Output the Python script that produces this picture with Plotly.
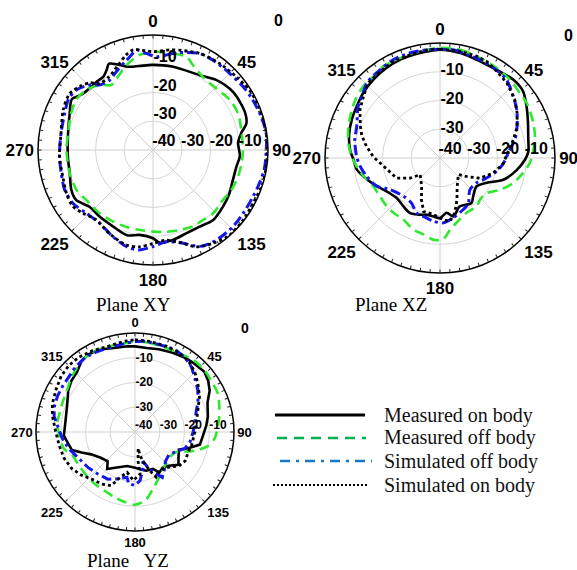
import plotly.graph_objects as go

W, H = 577, 570

# ---------------- data (angle in degrees, clockwise from top; level in dB) ----------------
series_names = ["Measured on body", "Measured off body", "Simulated off body", "Simulated on body"]
angle_ticks = [0, 45, 90, 135, 180, 225, 270, 315]
angle_labels = ["0", "45", "90", "135", "180", "225", "270", "315"]
ring_levels = [-30, -20, -10]
vertical_labels = ["-30", "-20", "-10"]
horizontal_labels = ["-40", "-30", "-20", "-10"]
horizontal_levels = [-40, -30, -20, -10]
outer_label = "0"

# Plane XY
mob_xy_theta = [0, 13, 32, 42, 54, 67, 74, 79, 85, 94, 101, 111, 120, 129, 139, 149, 158, 168, 176, 180,
                189, 197, 208, 219, 228, 237, 244, 254, 266, 281, 294, 302, 308, 316, 320, 326, 330, 333, 344, 351]
mob_xy_r = [-10.4, -10.2, -9.3, -7.2, -5.6, -5.4, -6.2, -8.7, -10.3, -9.7, -10.4, -10.3, -9.4, -8.7, -7.9, -8.8, -8.8, -7.9, -7.7, -9.3,
            -10.1, -9.0, -10.0, -10.3, -10.4, -8.1, -8.4, -9.9, -10.3, -9.9, -8.3, -6.7, -8.6, -9.3, -9.2, -9.2, -7.8, -6.3, -9.9, -10.4]
mof_xy_theta = [2, 12, 20, 25, 34, 46, 57, 67, 77, 90, 99, 107, 117, 126, 137, 145, 152, 162, 171, 180,
                190, 199, 209, 220, 233, 242, 254, 270, 281, 294, 303, 312, 321, 327, 333, 343, 352]
mof_xy_r = [-5.8, -5.7, -5.6, -7.3, -9.2, -9.3, -8.1, -7.8, -8.5, -8.7, -8.9, -9.0, -9.4, -10.1, -9.6, -10.1, -10.0, -10.7, -11.2, -11.6,
            -11.8, -11.7, -11.5, -11.2, -11.0, -10.0, -9.9, -9.9, -9.9, -8.8, -8.1, -8.8, -10.8, -13.1, -12.1, -9.0, -6.6]
sof_xy_theta = [2, 8, 15, 26, 34, 45, 55, 63, 73, 82, 90, 99, 107, 115, 125, 134, 145, 154, 162, 172,
                180, 188, 195, 205, 216, 227, 236, 246, 256, 266, 280, 293, 301, 308, 316, 321, 328, 336, 344, 351, 356]
sof_xy_r = [-7.5, -6.6, -4.9, -2.7, -2.4, -2.3, -1.7, -1.2, -0.6, -0.2, -0.6, -0.7, -1.2, -1.6, -1.7, -1.5, -1.7, -2.7, -5.9, -7.8,
            -6.4, -4.9, -5.1, -6.8, -8.5, -8.0, -6.6, -6.3, -7.1, -7.4, -7.5, -6.7, -5.7, -6.1, -8.5, -10.8, -11.4, -9.6, -7.3, -4.8, -6.3]
son_xy_theta = [0, 11, 26, 38, 49, 58, 68, 78, 90, 100, 108, 118, 128, 139, 147, 156, 162, 172, 180, 188,
                196, 208, 219, 228, 235, 243, 254, 266, 280, 294, 304, 311, 317, 321, 329, 338, 344, 349]
son_xy_r = [-5.8, -4.5, -2.7, -2.0, -1.4, -0.5, -0.2, -0.1, -0.2, -0.2, -0.1, -0.6, -0.3, -0.2, -1.4, -3.1, -5.9, -8.3, -7.5, -6.0,
            -5.7, -7.3, -8.7, -7.2, -5.9, -6.3, -7.3, -7.4, -7.5, -5.8, -5.0, -6.3, -8.0, -10.3, -10.3, -8.0, -5.7, -4.5]

# Plane XZ
mob_xz_theta = [0, 11, 18, 27, 35, 43, 51, 59, 68, 77, 86, 91, 99, 109, 118, 128, 139, 145, 158, 167,
                173, 180, 187, 193, 201, 209, 217, 227, 238, 246, 254, 262, 269, 275, 285, 294, 302, 310, 320, 329, 338, 346, 353]
mob_xz_r = [-2.3, -2.8, -3.4, -3.7, -3.4, -2.7, -2.9, -4.9, -7.0, -8.5, -9.2, -10.4, -13.0, -16.7, -21.6, -23.9, -22.4, -20.9, -21.8, -19.1,
            -20.8, -19.1, -19.6, -19.7, -18.9, -18.2, -18.9, -19.5, -18.1, -15.9, -13.4, -10.8, -9.9, -8.6, -7.3, -6.5, -5.9, -5.0, -4.2, -3.6, -3.1, -2.9, -2.7]
mof_xz_theta = [0, 11, 22, 32, 42, 51, 58, 69, 77, 85, 93, 100, 109, 118, 127, 136, 143, 154, 166, 172,
                178, 185, 192, 200, 211, 220, 228, 237, 247, 257, 264, 271, 279, 289, 299, 305, 313, 321, 328, 336, 346, 353]
mof_xz_r = [-1.7, -1.7, -2.5, -3.0, -3.5, -4.2, -4.3, -5.3, -6.1, -7.4, -8.7, -10.6, -13.1, -16.4, -19.7, -19.9, -18.9, -18.8, -16.7, -14.8,
            -11.6, -11.5, -12.8, -13.4, -15.1, -15.0, -15.0, -15.2, -14.8, -12.6, -10.9, -9.3, -7.7, -6.3, -5.0, -4.2, -3.5, -3.4, -2.5, -2.6, -2.3, -2.1]
sof_xz_theta = [0, 7, 15, 22, 31, 40, 50, 58, 68, 76, 83, 95, 103, 117, 124, 137, 148, 156, 168, 177,
                186, 196, 203, 212, 224, 238, 246, 256, 264, 271, 282, 291, 302, 310, 316, 326, 335, 344, 353]
sof_xz_r = [-2.3, -2.1, -2.9, -3.1, -3.6, -4.2, -6.7, -8.5, -11.1, -13.1, -15.5, -17.9, -19.7, -23.2, -24.6, -24.8, -21.4, -20.3, -18.7, -17.4,
            -17.9, -18.9, -19.2, -21.4, -21.6, -19.4, -15.9, -13.7, -12.1, -11.0, -9.7, -9.0, -6.4, -5.0, -3.5, -2.9, -2.1, -2.0, -2.1]
son_xz_theta = [0, 11, 20, 26, 33, 42, 52, 60, 68, 76, 84, 95, 106, 117, 125, 132, 149, 158, 165, 171,
                177, 183, 190, 197, 204, 213, 230, 236, 245, 262, 271, 279, 286, 292, 301, 309, 316, 325, 334, 344, 353]
son_xz_r = [-2.1, -2.2, -2.4, -2.7, -3.9, -5.1, -7.0, -9.0, -11.1, -13.7, -16.1, -17.9, -20.8, -24.5, -28.8, -31.4, -28.4, -24.3, -20.2, -17.7,
            -18.5, -19.7, -20.5, -20.5, -24.1, -28.3, -31.0, -27.5, -23.4, -20.1, -16.8, -14.1, -11.7, -10.1, -7.5, -5.8, -3.9, -3.4, -2.7, -2.6, -2.1]

# Plane YZ
mob_yz_theta = [0, 8, 16, 25, 34, 41, 49, 55, 61, 68, 78, 85, 93, 101, 107, 112, 121, 127, 135, 142,
                149, 154, 164, 173, 180, 193, 207, 217, 223, 233, 243, 249, 254, 262, 267, 278, 291, 302, 309, 316, 323, 329, 338, 346, 355]
mob_yz_r = [-5.4, -5.7, -5.2, -4.6, -3.8, -3.4, -2.9, -3.9, -5.5, -8.4, -9.9, -11.1, -12.5, -13.3, -17.5, -20.9, -19.5, -18.0, -20.7, -21.8,
            -20.9, -23.4, -23.7, -24.8, -25.6, -25.9, -23.9, -21.3, -23.8, -22.7, -20.1, -16.9, -13.5, -12.3, -11.2, -11.6, -10.6, -8.2, -7.0, -6.3, -4.1, -3.4, -3.9, -5.0, -5.2]
mof_yz_theta = [0, 9, 20, 31, 40, 49, 56, 65, 73, 81, 88, 95, 101, 106, 110, 114, 121, 137, 152, 161,
                171, 180, 189, 198, 208, 218, 226, 240, 250, 257, 268, 277, 287, 292, 302, 311, 323, 331, 340, 349, 355]
mof_yz_r = [-3.4, -3.5, -3.8, -3.4, -2.5, -2.5, -2.9, -3.1, -4.4, -5.6, -6.7, -7.8, -10.1, -13.5, -17.0, -20.7, -22.4, -22.0, -19.2, -16.5,
            -12.2, -10.6, -11.5, -12.5, -13.3, -13.5, -13.6, -13.6, -12.9, -10.5, -9.3, -8.4, -8.6, -8.4, -7.7, -6.1, -4.1, -3.4, -3.8, -3.9, -3.9]
sof_yz_theta = [0, 7, 16, 26, 34, 41, 47, 56, 65, 70, 81, 90, 100, 108, 116, 124, 134, 143, 149, 153,
                159, 165, 167, 174, 180, 187, 190, 201, 210, 222, 233, 245, 256, 265, 275, 281, 288, 295, 302, 310, 317, 326, 335, 346, 355]
sof_yz_r = [-3.4, -3.1, -3.4, -2.9, -3.8, -5.2, -7.2, -9.4, -11.9, -13.6, -15.5, -16.5, -17.4, -18.7, -21.8, -23.5, -22.9, -20.4, -18.6, -21.0,
            -23.9, -27.8, -25.2, -20.3, -18.4, -19.0, -21.4, -19.7, -18.0, -17.3, -16.2, -14.9, -12.4, -10.5, -8.5, -6.7, -5.8, -5.5, -5.4, -5.2, -4.4, -3.8, -4.1, -4.3, -3.9]
son_yz_theta = [0, 9, 20, 29, 37, 45, 52, 61, 70, 81, 90, 103, 110, 120, 128, 139, 148, 155, 159, 165,
                168, 169, 174, 173, 182, 191, 198, 204, 213, 223, 231, 240, 250, 260, 270, 281, 289, 298, 307, 315, 323, 332, 342, 353]
son_yz_r = [-2.7, -2.9, -3.1, -3.4, -4.1, -5.8, -7.8, -10.2, -12.9, -14.9, -15.8, -16.5, -17.0, -16.6, -17.6, -21.0, -21.6, -19.9, -23.3, -27.8,
            -30.6, -33.3, -28.1, -22.9, -20.4, -23.4, -20.8, -16.3, -15.0, -14.1, -12.2, -10.5, -9.4, -8.9, -8.0, -6.0, -4.7, -3.8, -2.6, -2.1, -2.2, -2.9, -3.7, -3.1]

# ---------------- styles ----------------
trace_styles = [
    dict(color="#000000", width=2.6, dash="solid"),
    dict(color="#2ee82e", width=2.6, dash="10px,6px"),
    dict(color="#1515f0", width=3.0, dash="10px,4px,3px,4px"),
    dict(color="#000000", width=2.8, dash="3px,3px"),
]
legend_styles = [
    dict(color="#000000", width=3, dash="solid"),
    dict(color="#00b050", width=2.6, dash="10px,7px"),
    dict(color="#1a78c8", width=2.6, dash="10px,6px,3px,6px"),
    dict(color="#000000", width=2.2, dash="2px,2px"),
]


def closed(seq):
    return list(seq) + [seq[0]]


def px(x):
    return x / W


def py(y):
    return 1 - y / H


planes = [
    dict(theta=[mob_xy_theta, mof_xy_theta, sof_xy_theta, son_xy_theta],
         r=[mob_xy_r, mof_xy_r, sof_xy_r, son_xy_r],
         cx=153, cy=150, R=115, ang_fs=17, rad_fs=16, vshift=2.5, hshift=3.8,
         shape=["spline", "spline", "spline", "spline"]),
    dict(theta=[mob_xz_theta, mof_xz_theta, sof_xz_theta, son_xz_theta],
         r=[mob_xz_r, mof_xz_r, sof_xz_r, son_xz_r],
         cx=440, cy=158, R=115, ang_fs=17, rad_fs=16, vshift=0.6, hshift=3.5,
         shape=["spline", "spline", "spline", "linear"]),
    dict(theta=[mob_yz_theta, mof_yz_theta, sof_yz_theta, son_yz_theta],
         r=[mob_yz_r, mof_yz_r, sof_yz_r, son_yz_r],
         cx=135, cy=432, R=99, ang_fs=13, rad_fs=12, vshift=0.0, hshift=3.5,
         shape=["linear", "spline", "linear", "linear"]),
]

fig = go.Figure()
layout_polars = {}
label_font = "Liberation Sans, Arial, sans-serif"
shapes = []
annotations = []


def polar_name(idx):
    return "polar" if idx == 1 else f"polar{idx}"


for i, p in enumerate(planes):
    dom = dict(x=[px(p["cx"] - p["R"]), px(p["cx"] + p["R"])],
               y=[py(p["cy"] + p["R"]), py(p["cy"] - p["R"])])
    main_name = polar_name(3 * i + 1)
    hor_name = polar_name(3 * i + 2)
    ver_name = polar_name(3 * i + 3)

    for k in range(4):
        st = trace_styles[k]
        fig.add_trace(go.Scatterpolar(
            theta=closed(p["theta"][k]), r=closed(p["r"][k]), mode="lines",
            line=dict(color=st["color"], width=st["width"], dash=st["dash"],
                      shape=p["shape"][k], smoothing=0.8),
            subplot=main_name, showlegend=False, name=series_names[k]))

    # main: circle, grid, angle labels
    layout_polars[main_name] = dict(
        domain=dom, bgcolor="white",
        angularaxis=dict(rotation=90, direction="clockwise", tickmode="array",
                         tickvals=angle_ticks, ticktext=angle_labels, ticks="",
                         showline=True, linecolor="black", linewidth=1.5,
                         showgrid=True, gridcolor="#cfcfcf", gridwidth=1,
                         tickfont=dict(family=label_font, size=p["ang_fs"], color="black", weight="bold")),
        radialaxis=dict(range=[-40, 0], angle=90, tickmode="array", tickvals=ring_levels,
                        showticklabels=False, ticks="", showline=False,
                        showgrid=True, gridcolor="#d6d6d6", gridwidth=1),
    )
    # overlay 1: minor angular ticks + horizontal radial labels
    fig.add_trace(go.Scatterpolar(theta=[0], r=[None], mode="lines", subplot=hor_name,
                                  showlegend=False, hoverinfo="skip"))
    layout_polars[hor_name] = dict(
        domain=dom, bgcolor="rgba(0,0,0,0)",
        angularaxis=dict(rotation=90, direction="clockwise", tickmode="array",
                         tickvals=list(range(0, 360, 5)), ticks="inside", ticklen=3,
                         tickcolor="#222222", tickwidth=1, showticklabels=False,
                         showline=False, showgrid=False),
        radialaxis=dict(range=[-40, 0], angle=0, tickangle=0, tickmode="array",
                        tickvals=[v + p["hshift"] for v in horizontal_levels], ticktext=horizontal_labels,
                        ticks="", showline=False, showgrid=False, side="counterclockwise",
                        tickfont=dict(family=label_font, size=p["rad_fs"], color="black", weight="bold")),
    )
    # overlay 2: vertical radial labels
    fig.add_trace(go.Scatterpolar(theta=[0], r=[None], mode="lines", subplot=ver_name,
                                  showlegend=False, hoverinfo="skip"))
    layout_polars[ver_name] = dict(
        domain=dom, bgcolor="rgba(0,0,0,0)",
        angularaxis=dict(rotation=90, direction="clockwise", showticklabels=False, ticks="",
                         showline=False, showgrid=False),
        radialaxis=dict(range=[-40, 0], angle=90, tickangle=90, tickmode="array",
                        tickvals=[v + p["vshift"] for v in ring_levels], ticktext=vertical_labels,
                        ticks="", showline=False, showgrid=False, side="clockwise",
                        tickfont=dict(family=label_font, size=p["rad_fs"], color="black", weight="bold")),
    )

for (x, y, fs) in [(278, 20, 16), (568, 36, 16), (245, 328, 14)]:
    annotations.append(dict(x=px(x), y=py(y), xref="paper", yref="paper", text=outer_label,
                            xanchor="center", yanchor="middle", showarrow=False,
                            font=dict(family=label_font, size=fs, color="black", weight="bold")))
serif = "Liberation Serif, Times New Roman, serif"
for (x, y, t) in [(133, 304, "Plane XY"), (391, 304, "Plane XZ"), (128, 560, "Plane\u00a0\u00a0\u00a0YZ")]:
    annotations.append(dict(x=px(x), y=py(y), xref="paper", yref="paper", text=t,
                            xanchor="center", yanchor="middle", showarrow=False,
                            font=dict(family=serif, size=19, color="black")))

legend_rows = [(415, 275, 365), (438, 277, 366), (461, 280, 372), (485, 273, 368)]
for k, (yy, x0, x1) in enumerate(legend_rows):
    st = legend_styles[k]
    shapes.append(dict(type="line", xref="paper", yref="paper", x0=px(x0), x1=px(x1), y0=py(yy), y1=py(yy),
                       line=dict(color=st["color"], width=st["width"], dash=st["dash"])))
    annotations.append(dict(x=px(382), y=py(yy), xref="paper", yref="paper", text=series_names[k],
                            xanchor="left", yanchor="middle", showarrow=False,
                            font=dict(family=serif, size=20, color="#111111")))

fig.update_layout(width=W, height=H, margin=dict(l=0, r=0, t=0, b=0),
                  paper_bgcolor="white", plot_bgcolor="white", showlegend=False,
                  annotations=annotations, shapes=shapes, **layout_polars)

fig.write_html("out.html", config={"displayModeBar": False},
               post_script="document.body.style.margin='0';")
